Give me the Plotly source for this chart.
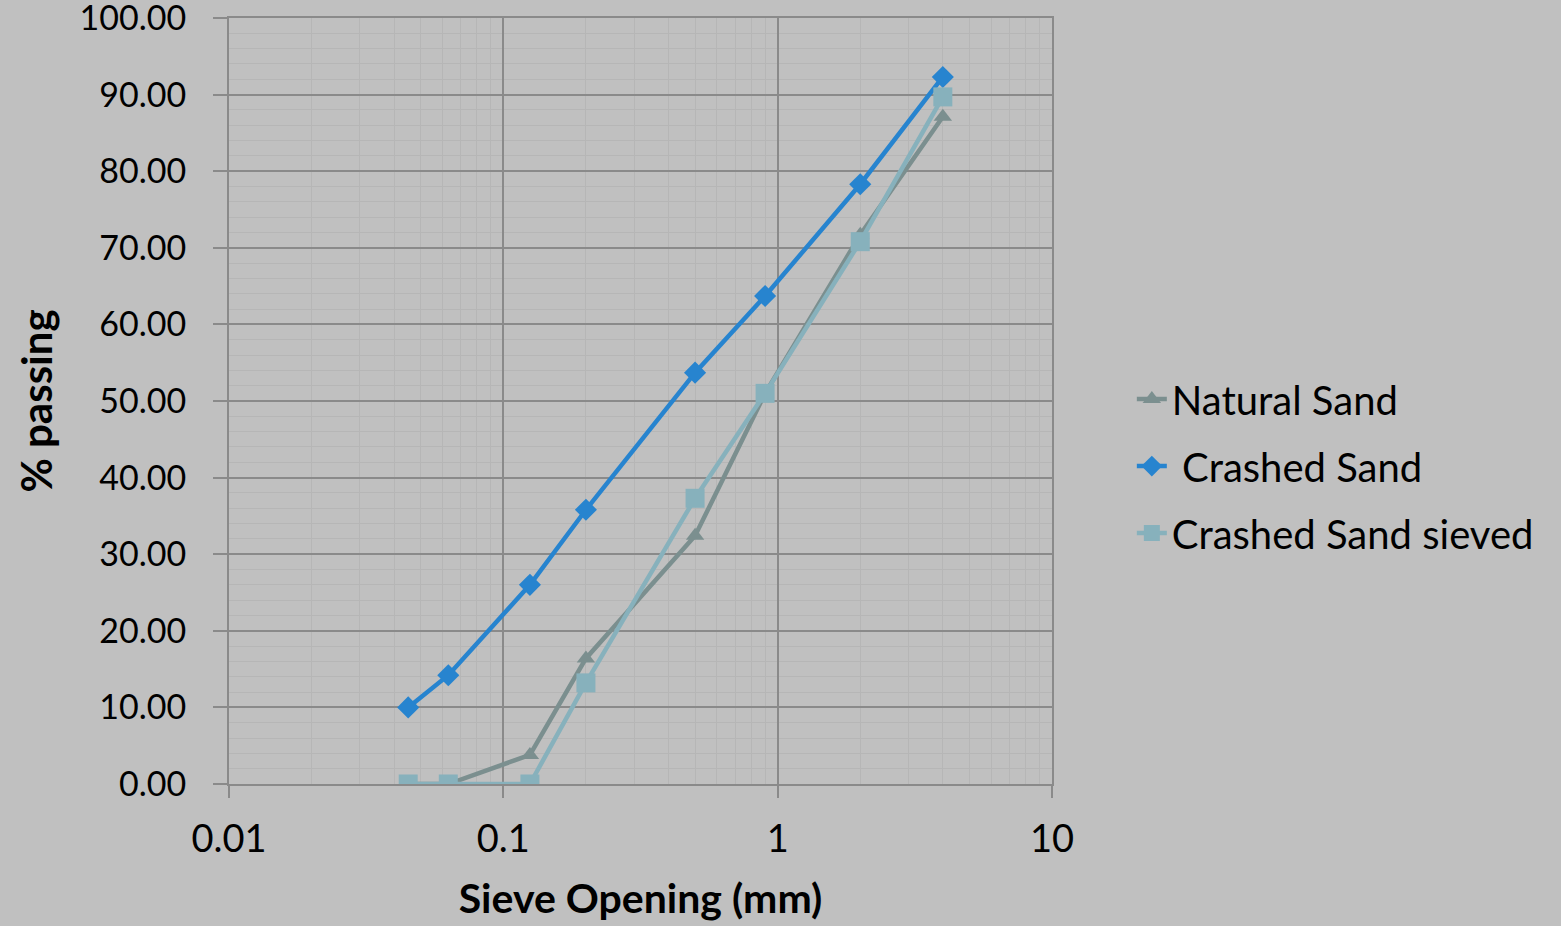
import plotly.graph_objects as go

sieve_mm = [0.045, 0.063, 0.125, 0.2, 0.5, 0.9, 2.0, 4.0]
natural_sand = [0.0, 0.0, 3.8, 16.4, 32.4, 51.0, 71.7, 87.1]
crashed_sand = [10.0, 14.2, 26.0, 35.8, 53.7, 63.7, 78.3, 92.3]
crashed_sieved = [0.0, 0.0, 0.0, 13.2, 37.3, 51.0, 70.8, 89.7]

names = ["Natural Sand", " Crashed Sand", "Crashed Sand sieved"]
colors = ["#7b8f8f", "#2784cf", "#87b1bc"]
symbols = ["triangle-up", "diamond", "square"]
sizes = [16, 17, 19]
series = [natural_sand, crashed_sand, crashed_sieved]

FONT = "Lato"
fig = go.Figure()
for i, (nm, ys) in enumerate(zip(names, series)):
    fig.add_trace(go.Scatter(
        x=sieve_mm, y=ys, name=nm, mode="lines+markers",
        line=dict(color=colors[i], width=4.5),
        marker=dict(symbol=symbols[i], size=sizes[i], color=colors[i]),
        legendgroup=f"g{i}",
    ))

grid_major = "#8a8a8a"
grid_minor = "#b6b6b6"
fig.update_layout(
    width=1561, height=926,
    paper_bgcolor="#c0c0c0", plot_bgcolor="#c0c0c0",
    margin=dict(l=229, r=509, t=18, b=142, autoexpand=False),
    font=dict(family=FONT, color="black"),
    showlegend=True,
    legend=dict(x=1.097, xanchor="left", y=0.415, yanchor="middle",
                font=dict(size=40, family=FONT), bgcolor="rgba(0,0,0,0)",
                tracegroupgap=12, traceorder="grouped"),
    xaxis=dict(type="log", range=[-2, 1], automargin=False,
               tickvals=[0.01, 0.1, 1, 10], ticktext=["0.01", "0.1", "1", "10"],
               tickfont=dict(size=38, family=FONT), ticklabelstandoff=8,
               showgrid=True, gridcolor=grid_major, gridwidth=2,
               minor=dict(showgrid=True, gridcolor=grid_minor, gridwidth=1,
                          tickvals=[m * d for d in [0.01, 0.1, 1] for m in range(2, 10)]),
               ticks="outside", ticklen=12, tickcolor=grid_major, tickwidth=2,
               zeroline=False, showline=True, linecolor=grid_major, linewidth=2, mirror=True,
               ticklabeloverflow="allow",
               title=dict(text="<b>Sieve Opening (mm)</b>", font=dict(size=41, family=FONT), standoff=26)),
    yaxis=dict(range=[0, 100], dtick=10, tickformat=".2f", automargin=False,
               tickfont=dict(size=34, family=FONT), ticklabelstandoff=20,
               showgrid=True, gridcolor=grid_major, gridwidth=2,
               minor=dict(showgrid=True, gridcolor=grid_minor, gridwidth=1, dtick=2),
               ticks="outside", ticklen=14, tickcolor=grid_major, tickwidth=2,
               zeroline=False, showline=True, linecolor=grid_major, linewidth=2, mirror=True,
               ticklabeloverflow="allow",
               title=dict(text="<b>% passing</b>", font=dict(size=42, family=FONT), standoff=14)),
)
fig.write_html("out.html", config={"displayModeBar": False},
               post_script="document.body.style.margin='0';document.body.style.overflow='hidden';")
